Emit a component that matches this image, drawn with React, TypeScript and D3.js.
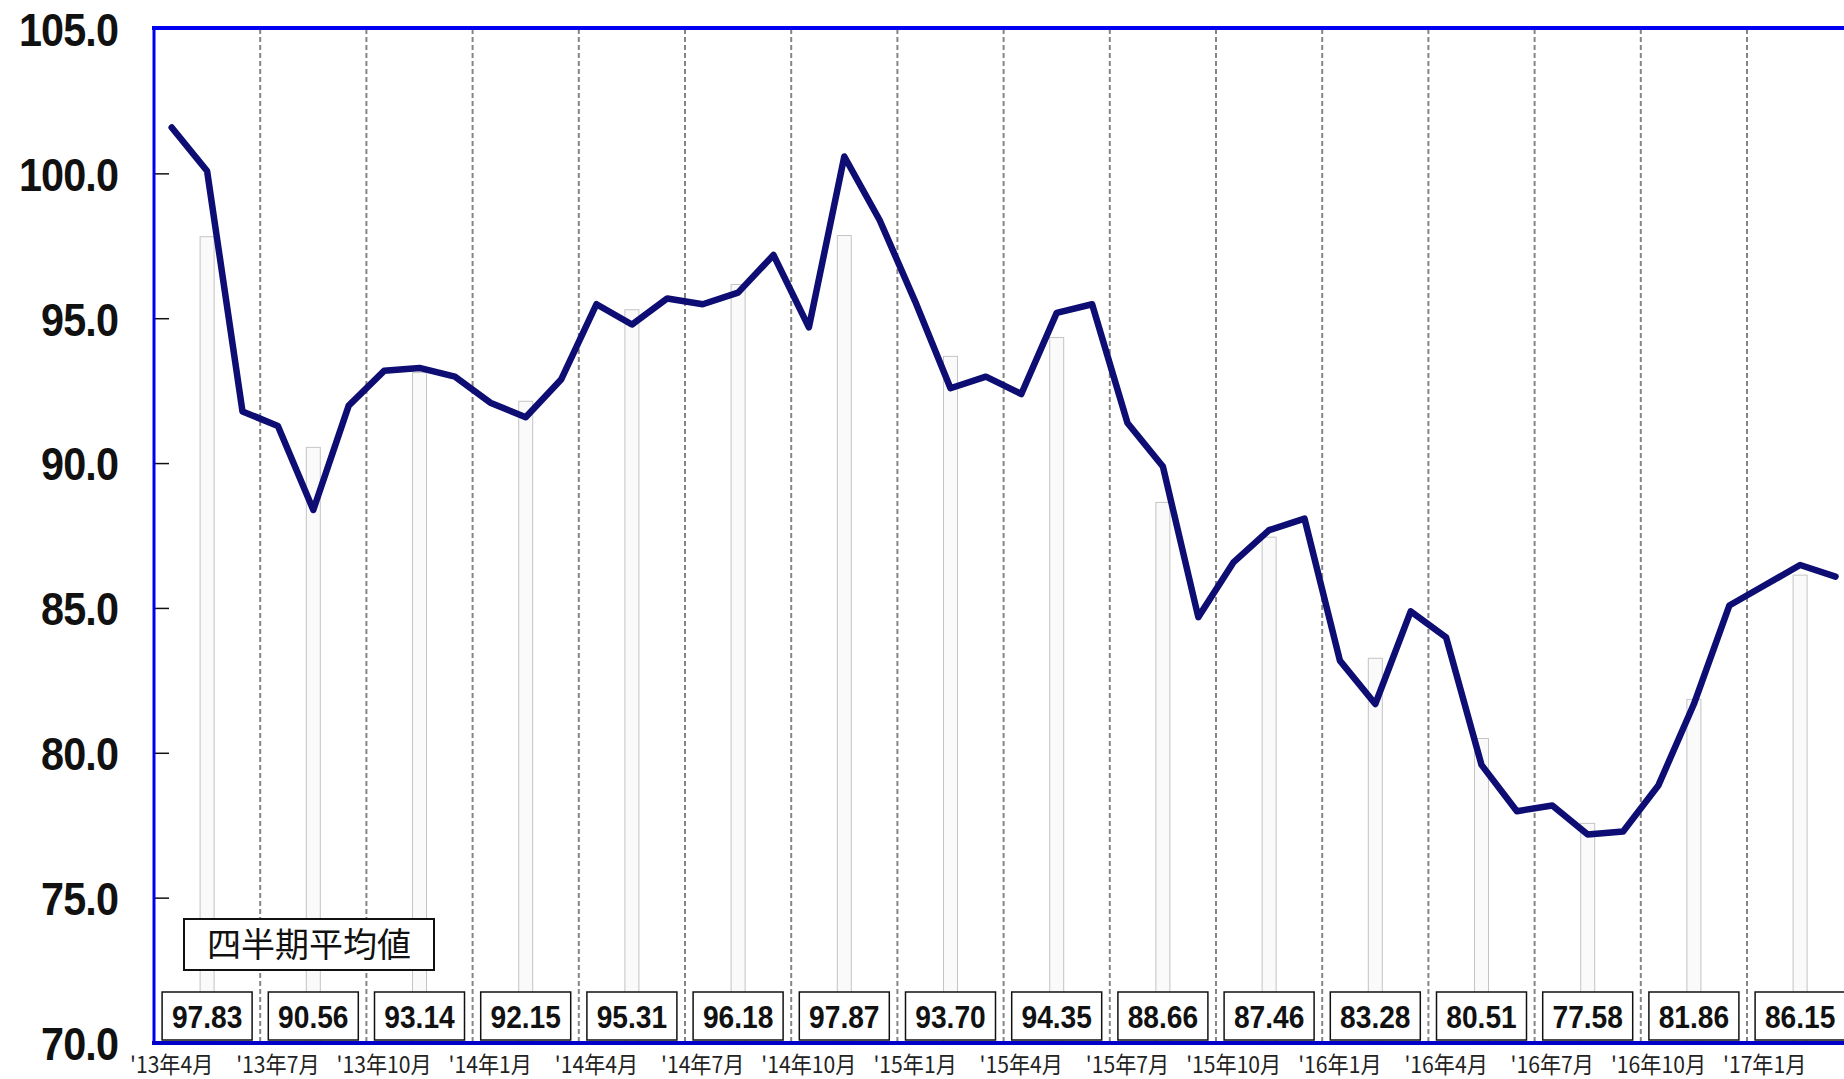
import React, { useEffect, useRef } from "react";
import * as d3 from "d3";

// monthly index, '13年4月 .. '17年3月
const monthly = [
  101.6, 100.1, 91.8, 91.3, 88.4, 92.0, 93.2, 93.3, 93.0, 92.1, 91.6, 92.9,
  95.5, 94.8, 95.7, 95.5, 95.9, 97.2, 94.7, 100.6, 98.4, 95.6, 92.6, 93.0,
  92.4, 95.2, 95.5, 91.4, 89.9, 84.7, 86.6, 87.7, 88.1, 83.2, 81.7, 84.9,
  84.0, 79.6, 78.0, 78.2, 77.2, 77.3, 78.9, 81.7, 85.1, 85.8, 86.5, 86.1,
];

const quarterly = [
  97.83, 90.56, 93.14, 92.15, 95.31, 96.18, 97.87, 93.7, 94.35, 88.66, 87.46,
  83.28, 80.51, 77.58, 81.86, 86.15,
];

const quarterLabels = [
  "'13年4月", "'13年7月", "'13年10月", "'14年1月", "'14年4月", "'14年7月",
  "'14年10月", "'15年1月", "'15年4月", "'15年7月", "'15年10月", "'16年1月",
  "'16年4月", "'16年7月", "'16年10月", "'17年1月",
];

const yTicks = [70, 75, 80, 85, 90, 95, 100, 105];

const W = 1844;
const H = 1079;
const left = 154;
const top = 29;
const bottom = 1043;
const step = 35.4;

export default function App() {
  const ref = useRef(null);

  useEffect(() => {
    const svg = d3.select(ref.current);
    svg.selectAll("*").remove();

    const x = d3
      .scaleBand()
      .domain(monthly.map((_, i) => i))
      .range([left, left + monthly.length * step])
      .padding(0);
    const cx = (i) => x(i) + x.bandwidth() / 2;

    const y = d3.scaleLinear().domain([70, 105]).range([bottom, top]);

    // quarterly average bars (faint)
    svg
      .append("g")
      .selectAll("rect")
      .data(quarterly)
      .enter()
      .append("rect")
      .attr("x", (d, q) => cx(q * 3 + 1) - 7)
      .attr("y", (d) => y(d))
      .attr("width", 14)
      .attr("height", (d) => bottom - y(d))
      .attr("fill", "#fafafa")
      .attr("stroke", "#c4c4c4")
      .attr("stroke-width", 1);

    // quarter dividers
    svg
      .append("g")
      .selectAll("line")
      .data(d3.range(1, quarterly.length))
      .enter()
      .append("line")
      .attr("x1", (q) => x(q * 3))
      .attr("x2", (q) => x(q * 3))
      .attr("y1", top)
      .attr("y2", bottom)
      .attr("stroke", "#858585")
      .attr("stroke-width", 2)
      .attr("stroke-dasharray", "5,3");

    // monthly line
    const line = d3
      .line()
      .x((d, i) => cx(i))
      .y((d) => y(d));
    svg
      .append("path")
      .datum(monthly)
      .attr("d", line)
      .attr("fill", "none")
      .attr("stroke", "#0d0d73")
      .attr("stroke-width", 6.5)
      .attr("stroke-linejoin", "round")
      .attr("stroke-linecap", "round");

    // quarterly value boxes
    const boxes = svg
      .append("g")
      .selectAll("g")
      .data(quarterly)
      .enter()
      .append("g")
      .attr("transform", (d, q) => `translate(${cx(q * 3 + 1)},${bottom - 27})`);
    boxes
      .append("rect")
      .attr("x", -45)
      .attr("y", -24)
      .attr("width", 90)
      .attr("height", 48)
      .attr("fill", "#fff")
      .attr("stroke", "#111")
      .attr("stroke-width", 1.5);
    boxes
      .append("text")
      .attr("text-anchor", "middle")
      .attr("dy", "0.36em")
      .attr("transform", "scale(0.88,1)")
      .attr("font-family", "Liberation Sans, Arial, sans-serif")
      .attr("font-weight", "bold")
      .attr("font-size", 32)
      .attr("fill", "#111")
      .text((d) => d.toFixed(2));

    // legend box
    svg
      .append("rect")
      .attr("x", 184)
      .attr("y", 919)
      .attr("width", 250)
      .attr("height", 51)
      .attr("fill", "#fff")
      .attr("stroke", "#111")
      .attr("stroke-width", 2);
    svg
      .append("text")
      .attr("x", 309)
      .attr("y", 945)
      .attr("dy", "0.36em")
      .attr("text-anchor", "middle")
      .attr("font-family", "Noto Sans CJK JP")
      .attr("font-size", 34)
      .attr("fill", "#111")
      .text("四半期平均値");

    // y ticks and labels
    const yg = svg.append("g");
    yg.selectAll("line")
      .data(yTicks.slice(1, -1))
      .enter()
      .append("line")
      .attr("x1", left)
      .attr("x2", left + 15)
      .attr("y1", (d) => y(d))
      .attr("y2", (d) => y(d))
      .attr("stroke", "#111")
      .attr("stroke-width", 1.5);
    yg.selectAll("text")
      .data(yTicks)
      .enter()
      .append("text")
      .attr("transform", (d) => `translate(118,${y(d)}) scale(0.88,1)`)
      .attr("dy", "0.36em")
      .attr("text-anchor", "end")
      .attr("font-family", "Liberation Sans, Arial, sans-serif")
      .attr("font-weight", "bold")
      .attr("font-size", 47)
      .attr("letter-spacing", -1)
      .attr("fill", "#111")
      .text((d) => d.toFixed(1));

    // x labels
    svg
      .append("g")
      .selectAll("text")
      .data(quarterLabels)
      .enter()
      .append("text")
      .attr("transform", (d, q) => `translate(${cx(q * 3)},1073) scale(0.92,1)`)
      .attr("text-anchor", "middle")
      .attr("font-family", "Noto Sans CJK JP")
      .attr("font-size", 23)
      .attr("fill", "#222")
      .text((d) => d);

    // frame
    svg
      .append("line")
      .attr("x1", left - 2)
      .attr("x2", W)
      .attr("y1", top - 1)
      .attr("y2", top - 1)
      .attr("stroke", "#0000f0")
      .attr("stroke-width", 4);
    svg
      .append("line")
      .attr("x1", left)
      .attr("x2", left)
      .attr("y1", top - 3)
      .attr("y2", bottom + 2)
      .attr("stroke", "#0000f0")
      .attr("stroke-width", 3);
    svg
      .append("line")
      .attr("x1", left - 2)
      .attr("x2", W)
      .attr("y1", bottom)
      .attr("y2", bottom)
      .attr("stroke", "#0000c8")
      .attr("stroke-width", 4);
  }, []);

  return (
    <svg
      ref={ref}
      width={W}
      height={H}
      style={{ position: "absolute", left: 0, top: 0, background: "#fff" }}
    ></svg>
  );
}
